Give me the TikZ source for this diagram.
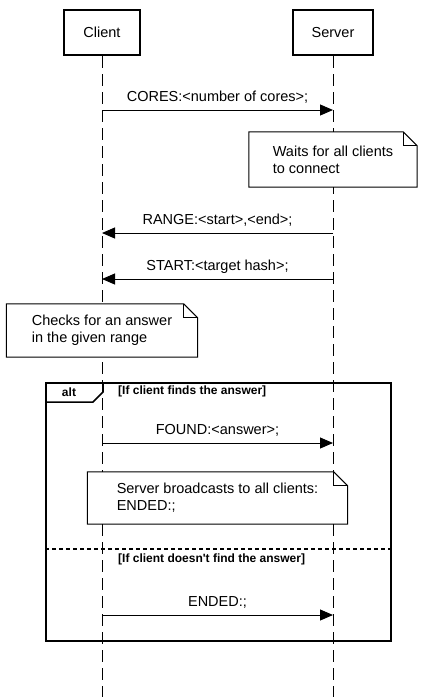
\documentclass[tikz,border=0pt]{standalone}
\usepackage{fontspec}
\setmainfont{Liberation Sans}
\usepackage{tikz}
\usetikzlibrary{arrows.meta,positioning,calc}

\begin{document}
\begin{tikzpicture}[x=1pt, y=-1pt,
  actor/.style={draw, line width=2pt, fill=white, minimum height=45pt, font=\fontsize{14.5}{17}\selectfont},
  lifeline/.style={line width=1pt, dash pattern=on 12pt off 6pt},
  msg/.style={line width=1pt, -{Triangle[length=13pt,width=11pt]}},
  msglabel/.style={midway, anchor=base, yshift=9pt, inner sep=0pt, font=\fontsize{14.5}{17}\selectfont},
  note/.style={fill=white, align=left, inner sep=0pt, font=\fontsize{14.5}{17}\selectfont},
  guard/.style={anchor=west, inner sep=0pt, font=\bfseries\fontsize{12}{14}\selectfont},
]
\useasboundingbox (0,0) rectangle (425,697);
% participants
\node[actor, minimum width=76pt] (client) at (102,32.5) {Client};
\node[actor, minimum width=80pt, right=151pt of client] (server) {Server};
\coordinate (client-end) at (client |- 0,697);
\coordinate (server-end) at (server |- 0,697);
\draw[lifeline] (client) -- (client-end);
\draw[lifeline] (server) -- (server-end);
\foreach \m/\y in {cores/110, range/233, start/279, found/443, ended/615} {
  \coordinate (\m-c) at (client |- 0,\y);
  \coordinate (\m-s) at (server |- 0,\y);
}
% notes
\node[note, minimum width=168pt, minimum height=55pt] (wait) at (server |- 0,159.5) {Waits for all clients\\to connect};
\node[note, minimum width=191pt, minimum height=53pt] (check) at (client |- 0,330.5) {Checks for an answer\\in the given range};
\node[note, minimum width=260pt, minimum height=52pt] (bcast) at (217.5,498) {Server broadcasts to all clients:\\ENDED:;};
\foreach \n in {wait,check,bcast} {
  \draw[line width=1pt] (\n.north west) -- ($(\n.north east)+(-14pt,0)$) -- ($(\n.north east)+(0,-14pt)$) -- (\n.south east) -- (\n.south west) -- cycle;
  \draw[line width=1pt] ($(\n.north east)+(-14pt,0)$) |- ($(\n.north east)+(0,-14pt)$);
}
% alt fragment
\node[draw, line width=2pt, minimum width=345pt, minimum height=258pt, anchor=north west, inner sep=0pt] (alt) at (45,382) {};
\draw[line width=1.5pt] ($(alt.north west)+(0,-20pt)$) -- ++(48pt,0) -- ++(10pt,10pt) -- ++(0,10pt);
\node[font=\bfseries\fontsize{12}{14}\selectfont, inner sep=0pt] (altlbl) at (69,392) {alt};
\node[guard] (g1) at (118,391) {[If client finds the answer]};
\draw[line width=1.5pt, dash pattern=on 4pt off 3pt] (alt.west |- 0,549) -- (alt.east |- 0,549);
\node[guard] (g2) at (118,559) {[If client doesn\textquotesingle t find the answer]};
% messages
\draw[msg] (cores-c) -- node[msglabel] {CORES:<number of cores>;} (cores-s);
\draw[msg] (range-s) -- node[msglabel] {RANGE:<start>,<end>;} (range-c);
\draw[msg] (start-s) -- node[msglabel] {START:<target hash>;} (start-c);
\draw[msg] (found-c) -- node[msglabel] {FOUND:<answer>;} (found-s);
\draw[msg] (ended-c) -- node[msglabel] {ENDED:;} (ended-s);
\end{tikzpicture}
\end{document}
